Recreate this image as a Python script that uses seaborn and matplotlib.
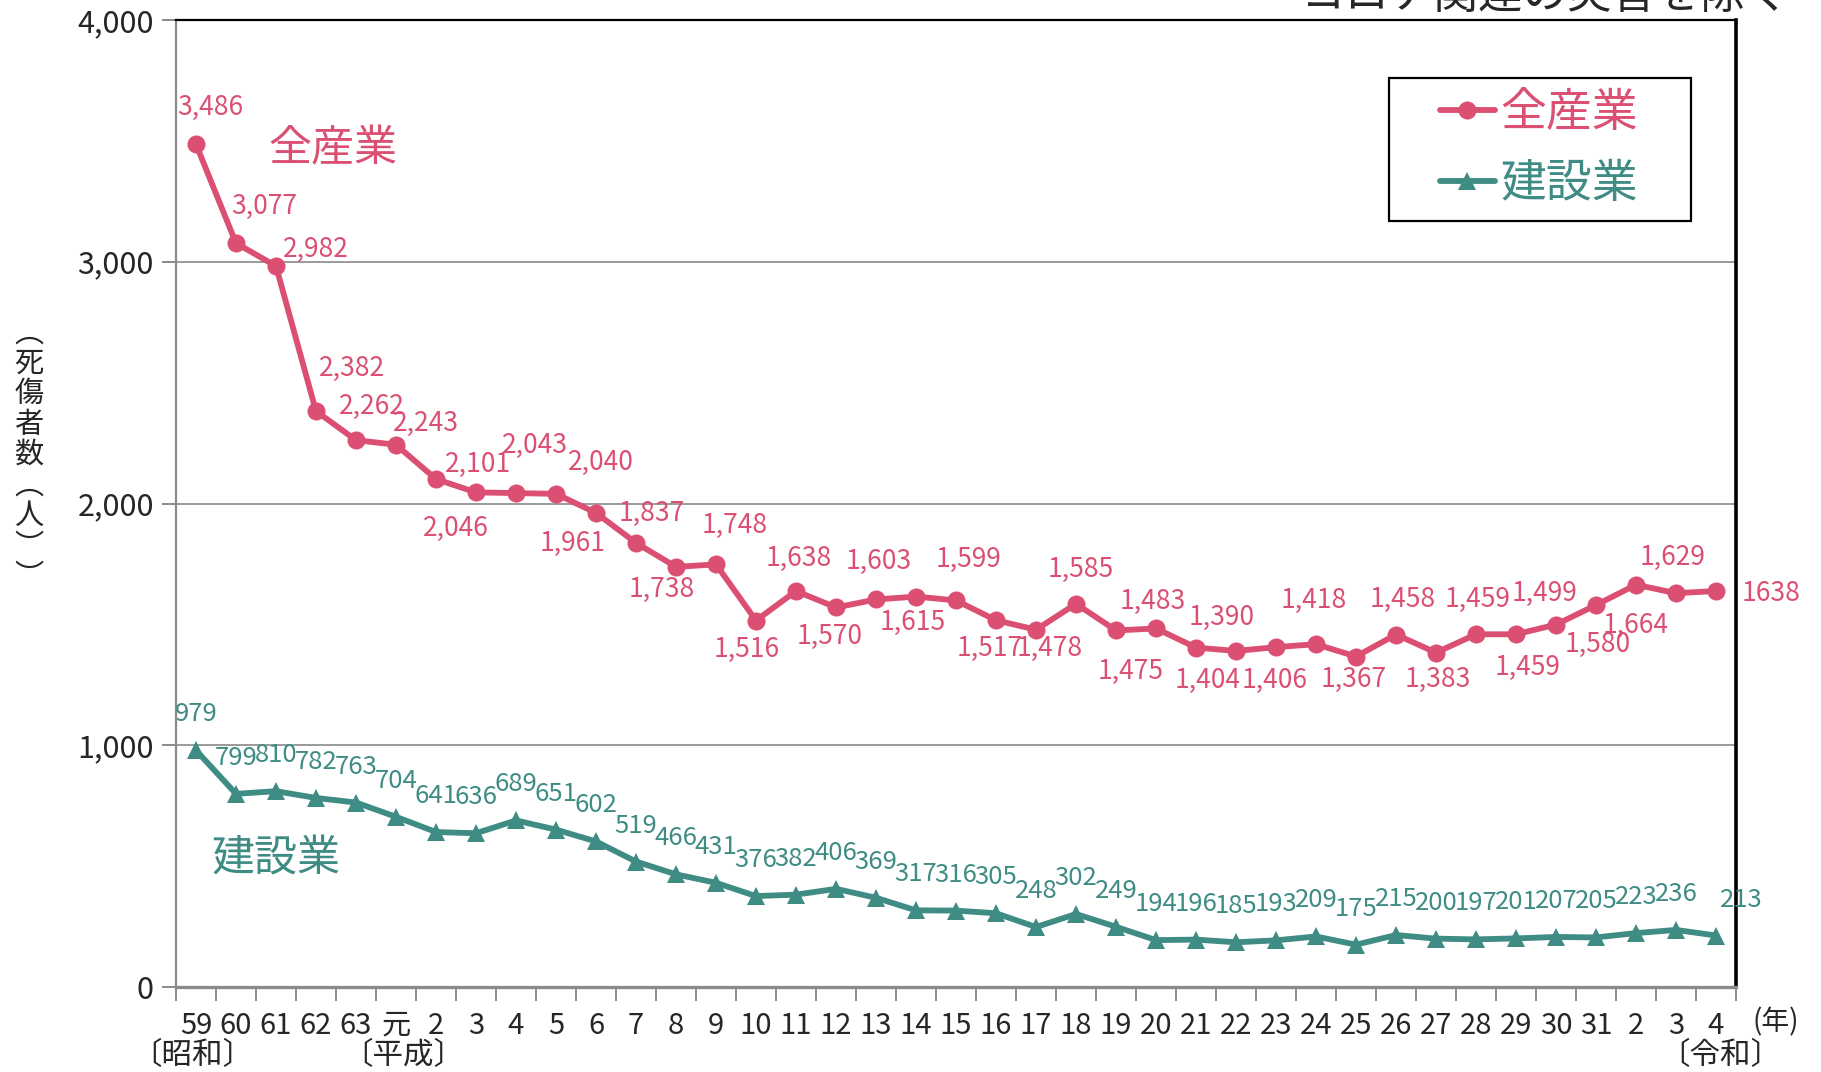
import pandas as pd
import matplotlib
matplotlib.use("Agg")
import matplotlib.pyplot as plt
from matplotlib.patches import Rectangle
from matplotlib.ticker import FixedLocator, FuncFormatter
import seaborn as sns

# x axis: 昭和59 ... 令和4
year_labels = ["59", "60", "61", "62", "63", "元", "2", "3", "4", "5", "6", "7", "8", "9",
               "10", "11", "12", "13", "14", "15", "16", "17", "18", "19", "20", "21",
               "22", "23", "24", "25", "26", "27", "28", "29", "30", "31", "2", "3", "4"]

all_industries = [3486, 3077, 2982, 2382, 2262, 2243, 2101, 2046, 2043, 2040, 1961, 1837,
                  1738, 1748, 1516, 1638, 1570, 1603, 1615, 1599, 1517, 1478, 1585, 1475,
                  1483, 1404, 1390, 1406, 1418, 1367, 1458, 1383, 1459, 1459, 1499, 1580,
                  1664, 1629, 1638]

construction = [979, 799, 810, 782, 763, 704, 641, 636, 689, 651, 602, 519, 466, 431, 376,
                382, 406, 369, 317, 316, 305, 248, 302, 249, 194, 196, 185, 193, 209, 175,
                215, 200, 197, 201, 207, 205, 223, 236, 213]

series_names = ["全産業", "建設業"]

# label offsets for 全産業 (pixels, screen y down)
pink_offsets = [(14, -37), (28, -37), (40, -17), (36, -43), (16, -34), (30, -21), (42, -15),
                (-20, 36), (19, -48), (45, -31), (-23, 31), (16, -29), (-14, 23), (19, -39),
                (-9, 29), (3, -33), (-6, 29), (3, -38), (-3, 26), (13, -41), (-6, 28),
                (14, 19), (5, -34), (15, 41), (-3, -27), (12, 33), (-14, -34), (-1, 33),
                (-2, -44), (-2, 23), (7, -35), (2, 27), (2, -35), (12, 33), (-12, -31),
                (2, 39), (0, 41), (-3, -36), (55, 2)]

PINK = "#DB4F72"
TEAL = "#3F8C85"
NUM_FONT = ["Liberation Sans Narrow", "Noto Sans CJK JP", "DejaVu Sans"]
JP_FONT = ["Noto Sans CJK JP", "DejaVu Sans"]

sns.set_style("white")
plt.rcParams["font.family"] = JP_FONT

df = pd.DataFrame({
    "pos": list(range(len(year_labels))) * 2,
    "value": all_industries + construction,
    "series": [series_names[0]] * len(all_industries) + [series_names[1]] * len(construction),
})

fig = plt.figure(figsize=(18.21, 10.72), dpi=100)
ax = fig.add_axes([176 / 1821, 1 - 987 / 1072, 1560 / 1821, 967 / 1072])

sns.lineplot(data=df, x="pos", y="value", hue="series", style="series",
             palette={series_names[0]: PINK, series_names[1]: TEAL},
             markers={series_names[0]: "o", series_names[1]: "^"}, dashes=False,
             linewidth=4.2, markersize=13, markeredgewidth=0, ax=ax)

ax.set_xlim(-0.5, len(year_labels) - 0.5)
ax.set_ylim(0, 4000)
ax.set_xlabel("")
ax.set_ylabel("")

# data labels
for i, v in enumerate(all_industries):
    dx, dy = pink_offsets[i]
    txt = str(v) if i == len(all_industries) - 1 else f"{v:,}"
    ax.annotate(txt, (i, v), xytext=(dx * 0.72, -dy * 0.72), textcoords="offset points",
                ha="center", va="center", color=PINK, fontsize=19, family=NUM_FONT)
for i, v in enumerate(construction):
    dx = 25 if i == len(construction) - 1 else 0
    ax.annotate(str(v), (i, v), xytext=(dx * 0.72, 36 * 0.72), textcoords="offset points",
                ha="center", va="center", color=TEAL, fontsize=18.5, family=NUM_FONT)

# axes styling
ax.yaxis.set_major_locator(FixedLocator([0, 1000, 2000, 3000, 4000]))
ax.yaxis.set_major_formatter(FuncFormatter(lambda y, _: f"{int(y):,}"))
ax.grid(axis="y", color="#9a9a9a", linewidth=1.4)
ax.tick_params(axis="y", direction="out", length=10, width=1.4, color="#8a8a8a",
               pad=6, labelsize=22, left=True)
for lab in ax.get_yticklabels():
    lab.set_family(NUM_FONT)

ax.set_xticks(range(len(year_labels)))
ax.set_xticklabels(year_labels)
ax.set_xticks([i - 0.5 for i in range(len(year_labels) + 1)], minor=True)
ax.tick_params(axis="x", which="major", length=0, pad=17, labelsize=21)
ax.tick_params(axis="x", which="minor", direction="out", length=10, width=1.4,
               color="#8a8a8a", bottom=True)
for lab in ax.get_xticklabels():
    lab.set_family(NUM_FONT)

for side in ["left", "bottom"]:
    ax.spines[side].set_color("#8a8a8a")
ax.spines["left"].set_linewidth(1.6)
ax.spines["bottom"].set_linewidth(2.4)
ax.spines["top"].set_color("black")
ax.spines["top"].set_linewidth(1.6)
ax.spines["right"].set_color("black")
ax.spines["right"].set_linewidth(2.6)

# era captions under the x axis
xax = ax.get_xaxis_transform()
ax.text(-0.1, -0.071, "〔昭和〕", transform=xax, ha="center", va="center", fontsize=22)
ax.text(5.17, -0.071, "〔平成〕", transform=xax, ha="center", va="center", fontsize=22)
ax.text(38.1, -0.071, "〔令和〕", transform=xax, ha="center", va="center", fontsize=22)
ax.text(39.5, -0.037, "(年)", transform=xax, ha="center", va="center", fontsize=20)

# series captions in the plot
ax.text(0.1006, 0.8666, "全産業", transform=ax.transAxes, ha="center", va="center",
        color=PINK, fontsize=31)
ax.text(0.0641, 0.132, "建設業", transform=ax.transAxes, ha="center", va="center",
        color=TEAL, fontsize=31)

# legend with separate frame
handles, labels = ax.get_legend_handles_labels()
leg = ax.legend(handles, labels, loc="center", bbox_to_anchor=(0.8737, 0.8676),
                frameon=False, fontsize=33, handlelength=1.2, handletextpad=0.12,
                labelspacing=0.5)
for t, c in zip(leg.get_texts(), [PINK, TEAL]):
    t.set_color(c)
ax.add_patch(Rectangle((0.7776, 0.792), 0.1936, 0.148, transform=ax.transAxes,
                       fill=False, edgecolor="black", linewidth=1.6, zorder=5))

# y axis title, written vertically
fig.text(29 / 1821, 1 - 455 / 1072, "︵\n死\n傷\n者\n数\n︵\n人\n︶\n︶", ha="center",
         va="center", fontsize=21, linespacing=1.02)

# note cut off at the top edge
fig.text(1790 / 1821, 1 - 8 / 1072, "コロナ関連の災害を除く", ha="right",
         va="baseline", fontsize=32)

fig.savefig("out.png", dpi=100)
